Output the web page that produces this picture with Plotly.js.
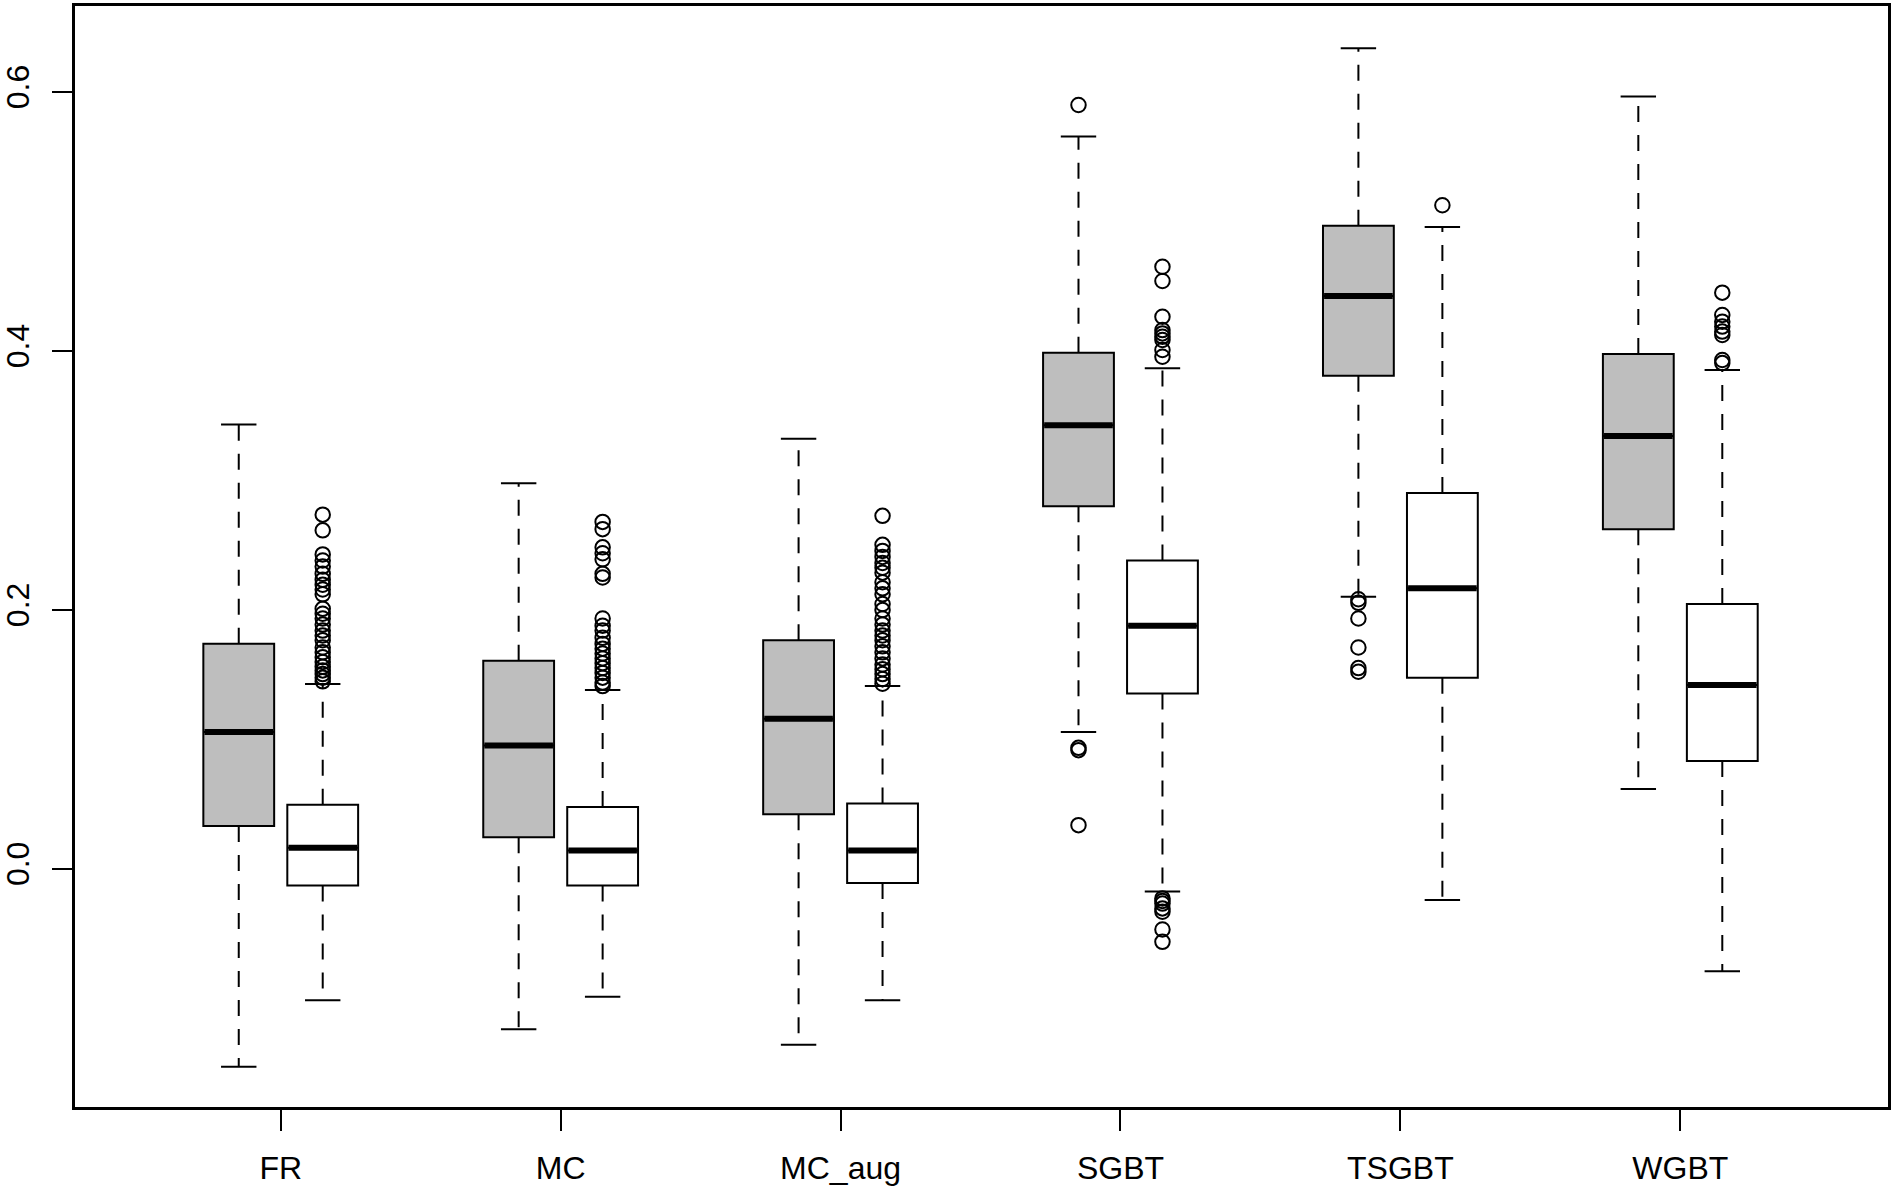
<!DOCTYPE html>
<html>
<head>
<meta charset="utf-8">
<script src="https://cdn.plot.ly/plotly-3.0.1.min.js"></script>
<style>
html,body{margin:0;padding:0;background:#fff;}
#chart{width:1894px;height:1190px;}
</style>
</head>
<body>
<div id="chart"></div>
<script>
// ---- data ----
const categories = ['FR', 'MC', 'MC_aug', 'SGBT', 'TSGBT', 'WGBT'];

// grey boxes (first of each pair)
const greyLower  = [-0.153, -0.124, -0.136, 0.1055, 0.210, 0.0616];
const greyQ1     = [0.0330, 0.0243, 0.0420, 0.2800, 0.3808, 0.2622];
const greyMedian = [0.1055, 0.0952, 0.1157, 0.3425, 0.4424, 0.3341];
const greyQ3     = [0.1738, 0.1605, 0.1764, 0.3985, 0.4965, 0.3976];
const greyUpper  = [0.3430, 0.2977, 0.3320, 0.5655, 0.6337, 0.5964];
const greyOutliers = [
  [],
  [],
  [],
  [0.5898, 0.0933, 0.0915, 0.0336],
  [0.2081, 0.2053, 0.1932, 0.1708, 0.1549, 0.1521],
  []
];

// white boxes (second of each pair)
const whiteLower  = [-0.1017, -0.0989, -0.1017, -0.0177, -0.0243, -0.0793];
const whiteQ1     = [-0.0130, -0.0130, -0.0110, 0.1353, 0.1475, 0.0831];
const whiteMedian = [0.0161, 0.0140, 0.0140, 0.1876, 0.2165, 0.1419];
const whiteQ3     = [0.0493, 0.0476, 0.0504, 0.2380, 0.2902, 0.2044];
const whiteUpper  = [0.1426, 0.1380, 0.1410, 0.3865, 0.4956, 0.3852];
const whiteOutliers = [
  [0.2734, 0.2613, 0.2427, 0.2380, 0.2333, 0.2277, 0.2231, 0.2193, 0.2156, 0.2119,
   0.2007, 0.1969, 0.1932, 0.1885, 0.1839, 0.1801, 0.1764, 0.1708, 0.1671, 0.1633,
   0.1596, 0.1559, 0.1531, 0.1503, 0.1475, 0.1447],
  [0.2678, 0.2622, 0.2482, 0.2436, 0.2389, 0.2277, 0.2249, 0.1932, 0.1876, 0.1839,
   0.1783, 0.1736, 0.1699, 0.1661, 0.1624, 0.1587, 0.1549, 0.1512, 0.1475, 0.1437, 0.1410],
  [0.2725, 0.2501, 0.2454, 0.2408, 0.2361, 0.2324, 0.2286, 0.2212, 0.2165, 0.2119,
   0.2044, 0.1997, 0.1932, 0.1885, 0.1839, 0.1801, 0.1764, 0.1717, 0.1671, 0.1624,
   0.1577, 0.1540, 0.1503, 0.1465, 0.1428],
  [0.4649, 0.4539, 0.4263, 0.4160, 0.4134, 0.4109, 0.4083, 0.4006, 0.3954,
   -0.0230, -0.0250, -0.0270, -0.0307, -0.0333, -0.0470, -0.0565],
  [0.5124],
  [0.4449, 0.4276, 0.4225, 0.4187, 0.4148, 0.4122, 0.3929, 0.3905]
];

const yTickVals = [0.0, 0.2, 0.4, 0.6];
const yTickText = ['0.0', '0.2', '0.4', '0.6'];

// ---- styling / layout parameters ----
const OFFSET = 0.15;     // half distance between paired boxes (category units)
const BOXW = 0.253;      // box width (category units)
const GREY = '#bebebe';
const FONT = 'Liberation Sans, Arial, Helvetica, sans-serif';

const idx = categories.map((c, i) => i + 1);

function makeSeries(pos, lower, q1, med, q3, upper, outliers, fill) {
  const traces = [];
  traces.push({
    type: 'box', orientation: 'v',
    x: pos, q1: q1, median: med, q3: q3,
    lowerfence: q1, upperfence: q3,
    width: BOXW, whiskerwidth: 0,
    fillcolor: fill,
    line: {color: '#000', width: 2},
    boxpoints: false, hoverinfo: 'skip', showlegend: false
  });
  // dashed whiskers
  const wx = [], wy = [];
  pos.forEach((p, i) => {
    wx.push(p, p, null, p, p, null);
    wy.push(q3[i], upper[i], null, q1[i], lower[i], null);
  });
  traces.push({
    type: 'scatter', mode: 'lines', x: wx, y: wy,
    line: {color: '#000', width: 2, dash: '16px,13px'},
    hoverinfo: 'skip', showlegend: false
  });
  // staples
  const sx = [], sy = [];
  pos.forEach((p, i) => {
    sx.push(p - BOXW / 4, p + BOXW / 4, null, p - BOXW / 4, p + BOXW / 4, null);
    sy.push(upper[i], upper[i], null, lower[i], lower[i], null);
  });
  traces.push({
    type: 'scatter', mode: 'lines', x: sx, y: sy,
    line: {color: '#000', width: 2},
    hoverinfo: 'skip', showlegend: false
  });
  // medians
  const mx = [], my = [];
  pos.forEach((p, i) => {
    mx.push(p - BOXW / 2 + 0.004, p + BOXW / 2 - 0.004, null);
    my.push(med[i], med[i], null);
  });
  traces.push({
    type: 'scatter', mode: 'lines', x: mx, y: my,
    line: {color: '#000', width: 6},
    hoverinfo: 'skip', showlegend: false
  });
  // outliers
  const ox = [], oy = [];
  pos.forEach((p, i) => {
    outliers[i].forEach(v => { ox.push(p); oy.push(v); });
  });
  traces.push({
    type: 'scatter', mode: 'markers', x: ox, y: oy,
    marker: {symbol: 'circle-open', size: 14.5, color: '#000', line: {width: 2, color: '#000'}},
    hoverinfo: 'skip', showlegend: false
  });
  return traces;
}

const posGrey = idx.map(i => i - OFFSET);
const posWhite = idx.map(i => i + OFFSET);

const data = [].concat(
  makeSeries(posGrey, greyLower, greyQ1, greyMedian, greyQ3, greyUpper, greyOutliers, GREY),
  makeSeries(posWhite, whiteLower, whiteQ1, whiteMedian, whiteQ3, whiteUpper, whiteOutliers, '#ffffff')
);

const layout = {
  width: 1894, height: 1190,
  margin: {l: 75, r: 6, t: 6, b: 83, pad: 0},
  paper_bgcolor: '#fff', plot_bgcolor: '#fff',
  showlegend: false,
  boxmode: 'overlay',
  font: {family: FONT, size: 32, color: '#000'},
  xaxis: {
    range: [0.265, 6.742],
    tickmode: 'array', tickvals: idx, ticktext: categories,
    ticks: 'outside', ticklen: 21, tickwidth: 2, tickcolor: '#000',
    ticklabelstandoff: 10,
    showline: true, linewidth: 3, linecolor: '#000', mirror: true,
    showgrid: false, zeroline: false,
    tickfont: {family: FONT, size: 32, color: '#000'}
  },
  yaxis: {
    range: [-0.1841, 0.6663],
    tickmode: 'array', tickvals: yTickVals, ticktext: yTickText,
    ticks: 'outside', ticklen: 20, tickwidth: 2, tickcolor: '#000',
    tickangle: -90, ticklabelstandoff: 10,
    showline: true, linewidth: 3, linecolor: '#000', mirror: true,
    showgrid: false, zeroline: false,
    tickfont: {family: FONT, size: 32, color: '#000'}
  },
  hovermode: false
};

Plotly.newPlot('chart', data, layout, {displayModeBar: false, staticPlot: true});
</script>
</body>
</html>
